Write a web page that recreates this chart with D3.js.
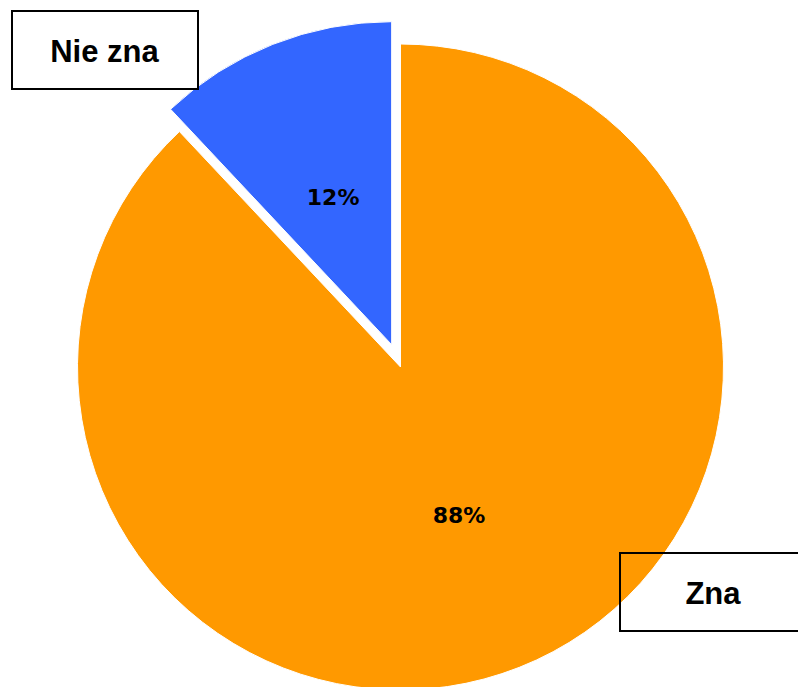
<!DOCTYPE html>
<html>
<head>
<meta charset="utf-8">
<script src="https://cdn.jsdelivr.net/npm/d3@7"></script>
<style>
  html, body { margin: 0; padding: 0; background: #fff; }
  svg { display: block; }
</style>
</head>
<body>
<svg id="chart" width="798" height="687"></svg>
<script>
// Data
const categories = ['Zna', 'Nie zna'];
const values = [88, 12];
const colors = ['#FF9900', '#3366FF'];

// Layout
const svg = d3.select('svg#chart');
const cx = 400.5, cy = 367, radius = 323;
const explode = 24;          // "Nie zna" slice is pulled out
const labelRadius = 159;

// Callout boxes (x, y, w, h) for each category
const boxes = [
  {x: 620, y: 553, w: 190, h: 78},
  {x: 12, y: 11, w: 186, h: 78}
];

const pie = d3.pie().sort(null).value(d => d.value);
const arc = d3.arc().innerRadius(0).outerRadius(radius);

const data = categories.map((c, i) => ({name: c, value: values[i], color: colors[i], exploded: i === 1}));
const arcs = pie(data);

const g = svg.append('g').attr('transform', `translate(${cx},${cy})`);

const slice = g.selectAll('g.slice')
  .data(arcs)
  .join('g')
  .attr('class', 'slice')
  .attr('transform', d => {
    if (!d.data.exploded) return null;
    const a = (d.startAngle + d.endAngle) / 2;
    return `translate(${Math.sin(a) * explode},${-Math.cos(a) * explode})`;
  });

slice.append('path')
  .attr('d', arc)
  .attr('fill', d => d.data.color)
  .attr('stroke', '#fff')
  .attr('stroke-width', 1);

const total = d3.sum(values);
slice.append('text')
  .attr('transform', d => {
    const a = (d.startAngle + d.endAngle) / 2;
    return `translate(${Math.sin(a) * labelRadius},${-Math.cos(a) * labelRadius})`;
  })
  .attr('text-anchor', 'middle')
  .attr('dy', '0.36em')
  .style('font-family', 'Verdana, "DejaVu Sans", sans-serif')
  .style('font-weight', 'bold')
  .style('font-size', '22px')
  .attr('fill', '#000')
  .text(d => Math.round(d.data.value / total * 100) + '%');

// Category callouts (outline only, drawn over the pie)
const callout = svg.selectAll('g.callout')
  .data(data)
  .join('g')
  .attr('class', 'callout');

callout.append('rect')
  .attr('x', (d, i) => boxes[i].x)
  .attr('y', (d, i) => boxes[i].y)
  .attr('width', (d, i) => boxes[i].w)
  .attr('height', (d, i) => boxes[i].h)
  .attr('fill', 'none')
  .attr('stroke', '#000')
  .attr('stroke-width', 2);

callout.append('text')
  .attr('x', (d, i) => i === 0 ? 713 : boxes[i].x + boxes[i].w / 2 - 0.5)
  .attr('y', (d, i) => boxes[i].y + 51)
  .attr('text-anchor', 'middle')
  .style('font-family', 'Arial, "Liberation Sans", sans-serif')
  .style('font-weight', 'bold')
  .style('font-size', '31px')
  .attr('fill', '#000')
  .text(d => d.name);
</script>
</body>
</html>
